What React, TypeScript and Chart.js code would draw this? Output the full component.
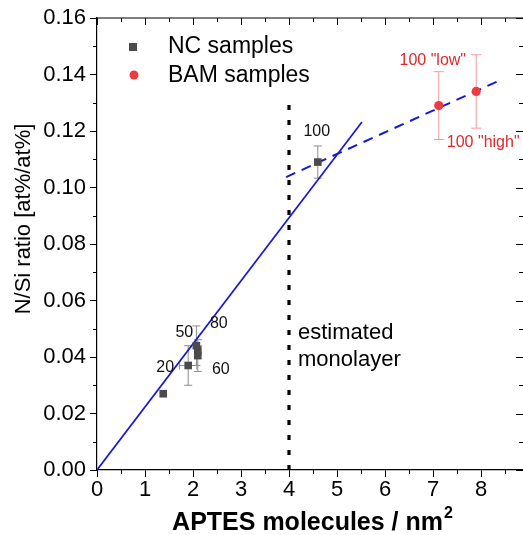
import React, { useEffect, useRef } from 'react';
import { Chart, registerables } from 'chart.js';
Chart.register(...registerables);

// ---- data ----
const ncX = [1.38, 1.9, 2.07, 2.1, 2.1, 4.6];
const ncY = [0.027, 0.037, 0.044, 0.0425, 0.0405, 0.109];
const ncYErr = [0, 0.007, 0.007, 0.0015, 0.0056, 0.0057];
const ncXErr = [0, 0.18, 0, 0, 0, 0];
const ncLabels = ['', '20', '50', '80', '60', '100'];

const bamX = [7.12, 7.9];
const bamY = [0.129, 0.134];
const bamYErr = [0.012, 0.013];
const bamLabels = ['100 "low"', '100 "high"'];

const fitSolidX = [0, 5.52];
const fitSolidY = [0, 0.1232];
const fitDashX = [3.94, 8.4];
const fitDashY = [0.1037, 0.138];
const monolayerX = [4, 4];
const monolayerY = [0, 0.131];

const xTicks = [0, 1, 2, 3, 4, 5, 6, 7, 8];
const yTicks = [0, 0.02, 0.04, 0.06, 0.08, 0.1, 0.12, 0.14, 0.16];

const legendLabels = ['NC samples', 'BAM samples'];
const xTitle = 'APTES molecules / nm';
const yTitle = 'N/Si ratio [at%/at%]';
const monoText = ['estimated', 'monolayer'];

// ---- styles ----
const FONT = '"Liberation Sans", Arial, sans-serif';
const GRAY = '#4b4b4b';
const GRAY_ERR = '#8c8c8c';
const RED = '#ee3b3f';
const RED_ERR = '#f09a9a';
const BLUE = '#1717d4';
const ncLabelOffsets: [number, number][] = [[0, 0], [-23, 2], [-12, -13], [21, -26], [23, 14], [-1, -30]];
const bamLabelOffsets: [number, number][] = [[-6, -45], [7, 51]];

const zip = (xs: number[], ys: number[]) => xs.map((x, i) => ({ x, y: ys[i] }));

const overlay = {
  id: 'overlay',
  beforeDatasetsDraw(chart: any) {
    const { ctx, scales } = chart;
    const xs = scales.x, ys = scales.y;
    const drawErr = (x: number, y: number, ex: number, ey: number, color: string, cap: number) => {
      ctx.save();
      ctx.strokeStyle = color;
      ctx.lineWidth = 1;
      const px = xs.getPixelForValue(x), py = ys.getPixelForValue(y);
      if (ey > 0) {
        const t = ys.getPixelForValue(y + ey), b = ys.getPixelForValue(y - ey);
        ctx.beginPath();
        ctx.moveTo(px, t); ctx.lineTo(px, b);
        ctx.moveTo(px - cap, t); ctx.lineTo(px + cap, t);
        ctx.moveTo(px - cap, b); ctx.lineTo(px + cap, b);
        ctx.stroke();
      }
      if (ex > 0) {
        const l = xs.getPixelForValue(x - ex), r = xs.getPixelForValue(x + ex);
        ctx.beginPath();
        ctx.moveTo(l, py); ctx.lineTo(r, py);
        ctx.moveTo(l, py - cap); ctx.lineTo(l, py + cap);
        ctx.moveTo(r, py - cap); ctx.lineTo(r, py + cap);
        ctx.stroke();
      }
      ctx.restore();
    };
    ncX.forEach((x, i) => drawErr(x, ncY[i], ncXErr[i], ncYErr[i], GRAY_ERR, 4));
    bamX.forEach((x, i) => drawErr(x, bamY[i], 0, bamYErr[i], RED_ERR, 5));
  },
  afterDraw(chart: any) {
    const { ctx, scales, chartArea } = chart;
    const xs = scales.x, ys = scales.y;
    const { left, right, top, bottom } = chartArea;
    ctx.save();
    ctx.strokeStyle = '#000';
    ctx.lineWidth = 1.2;
    ctx.beginPath();
    ctx.moveTo(left, top); ctx.lineTo(right, top);
    ctx.stroke();
    ctx.lineWidth = 1;
    ctx.beginPath();
    for (let k = 0; k <= 17; k++) {
      const v = k * 0.5;
      const px = Math.round(xs.getPixelForValue(v)) + 0.5;
      const major = k % 2 === 0;
      if (!major) { ctx.moveTo(px, bottom); ctx.lineTo(px, bottom + 4); }
      ctx.moveTo(px, top); ctx.lineTo(px, top + (major ? 7 : 4));
    }
    for (let k = 0; k <= 16; k++) {
      const v = k * 0.01;
      const py = Math.round(ys.getPixelForValue(v)) + 0.5;
      const major = k % 2 === 0;
      if (!major) { ctx.moveTo(left, py); ctx.lineTo(left - 4, py); }
      ctx.moveTo(right, py); ctx.lineTo(right - (major ? 7 : 4), py);
    }
    ctx.stroke();

    ctx.fillStyle = '#111';
    ctx.font = `16px ${FONT}`;
    ctx.textAlign = 'center';
    ctx.textBaseline = 'middle';
    ncX.forEach((x, i) => {
      if (!ncLabels[i]) return;
      const [dx, dy] = ncLabelOffsets[i];
      ctx.fillText(ncLabels[i], xs.getPixelForValue(x) + dx, ys.getPixelForValue(ncY[i]) + dy);
    });
    ctx.fillStyle = '#e0282c';
    bamX.forEach((x, i) => {
      const [dx, dy] = bamLabelOffsets[i];
      ctx.fillText(bamLabels[i], xs.getPixelForValue(x) + dx, ys.getPixelForValue(bamY[i]) + dy);
    });

    ctx.fillStyle = '#000';
    ctx.font = `22px ${FONT}`;
    ctx.textAlign = 'left';
    ctx.textBaseline = 'alphabetic';
    const mx = xs.getPixelForValue(4) + 9;
    ctx.fillText(monoText[0], mx, ys.getPixelForValue(0.0464));
    ctx.fillText(monoText[1], mx, ys.getPixelForValue(0.0368));

    const lx = 133;
    ctx.fillStyle = GRAY;
    ctx.fillRect(lx - 4, 43, 8, 8);
    ctx.fillStyle = RED;
    ctx.beginPath();
    ctx.arc(lx + 1, 75, 4.5, 0, Math.PI * 2);
    ctx.fill();
    ctx.fillStyle = '#000';
    ctx.font = `23px ${FONT}`;
    ctx.textBaseline = 'middle';
    ctx.fillText(legendLabels[0], 168, 47);
    ctx.fillText(legendLabels[1], 168, 76);

    ctx.font = `bold 25px ${FONT}`;
    ctx.textBaseline = 'alphabetic';
    const w = ctx.measureText(xTitle).width;
    ctx.font = `bold 16px ${FONT}`;
    const w2 = ctx.measureText('2').width;
    const tx = 312 - (w + w2) / 2;
    ctx.font = `bold 25px ${FONT}`;
    ctx.fillText(xTitle, tx, 530);
    ctx.font = `bold 16px ${FONT}`;
    ctx.fillText('2', tx + w + 1, 518);

    ctx.save();
    ctx.translate(30, 219);
    ctx.rotate(-Math.PI / 2);
    ctx.font = `22px ${FONT}`;
    ctx.textAlign = 'center';
    ctx.textBaseline = 'alphabetic';
    ctx.fillText(yTitle, 0, 0);
    ctx.restore();
    ctx.restore();
  },
};

export default function App() {
  const ref = useRef<HTMLCanvasElement>(null);
  useEffect(() => {
    if (!ref.current) return;
    const chart = new Chart(ref.current, {
      type: 'scatter',
      data: {
        datasets: [
          { label: legendLabels[0], data: zip(ncX, ncY), pointStyle: 'rect', pointRadius: 5.4, backgroundColor: GRAY, borderWidth: 0 },
          { label: legendLabels[1], data: zip(bamX, bamY), pointStyle: 'circle', pointRadius: 4.6, backgroundColor: RED, borderWidth: 0 },
          { label: 'fit', data: zip(fitSolidX, fitSolidY), showLine: true, pointRadius: 0, borderColor: BLUE, borderWidth: 1.7 },
          { label: 'fit2', data: zip(fitDashX, fitDashY), showLine: true, pointRadius: 0, borderColor: BLUE, borderWidth: 2, borderDash: [10, 7] },
          { label: 'monolayer', data: zip(monolayerX, monolayerY), showLine: true, pointRadius: 0, borderColor: '#000', borderWidth: 3.2, borderDash: [5, 10], borderCapStyle: 'butt' },
        ],
      },
      options: {
        animation: false,
        responsive: false,
        layout: { autoPadding: false, padding: { top: 18, right: 0, left: 0, bottom: 0 } },
        plugins: { legend: { display: false }, tooltip: { enabled: false } },
        scales: {
          x: {
            type: 'linear',
            min: 0,
            max: 8.875,
            afterFit: (s: any) => { s.height = 65; s.paddingLeft = 0; s.paddingRight = 0; },
            afterBuildTicks: (s: any) => { s.ticks = xTicks.map((v) => ({ value: v })); },
            ticks: { font: { size: 22, family: FONT }, color: '#000', padding: 0, maxRotation: 0 },
            grid: { drawOnChartArea: false, tickLength: 7, color: '#000', tickColor: '#000' },
            border: { color: '#000', width: 1.2 },
          },
          y: {
            type: 'linear',
            min: 0,
            max: 0.16,
            afterFit: (s: any) => { s.width = 97; s.paddingTop = 0; s.paddingBottom = 0; },
            afterBuildTicks: (s: any) => { s.ticks = yTicks.map((v) => ({ value: v })); },
            ticks: { font: { size: 22, family: FONT }, color: '#000', padding: 4, callback: (v: any) => Number(v).toFixed(2) },
            grid: { drawOnChartArea: false, tickLength: 7, color: '#000', tickColor: '#000' },
            border: { color: '#000', width: 1.2 },
          },
        },
      },
      plugins: [overlay],
    });
    return () => chart.destroy();
  }, []);
  return (
    <div style={{ position: 'absolute', left: 0, top: 0, width: 523, height: 535, background: '#fff' }}>
      <canvas ref={ref} width={523} height={535} style={{ display: 'block' }} />
    </div>
  );
}
